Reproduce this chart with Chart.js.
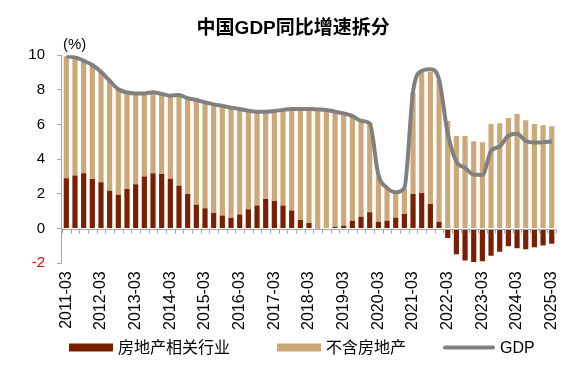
<!DOCTYPE html>
<html>
<head>
<meta charset="utf-8">
<script src="https://cdn.jsdelivr.net/npm/chart.js@4"></script>
<style>
html,body{margin:0;padding:0;background:#fff;}
#wrap{width:579px;height:369px;position:relative;}
</style>
</head>
<body>
<div id="wrap"><canvas id="c" width="579" height="369"></canvas></div>
<script>
const quarters = [
 "2011-03","2011-06","2011-09","2011-12",
 "2012-03","2012-06","2012-09","2012-12",
 "2013-03","2013-06","2013-09","2013-12",
 "2014-03","2014-06","2014-09","2014-12",
 "2015-03","2015-06","2015-09","2015-12",
 "2016-03","2016-06","2016-09","2016-12",
 "2017-03","2017-06","2017-09","2017-12",
 "2018-03","2018-06","2018-09","2018-12",
 "2019-03","2019-06","2019-09","2019-12",
 "2020-03","2020-06","2020-09","2020-12",
 "2021-03","2021-06","2021-09","2021-12",
 "2022-03","2022-06","2022-09","2022-12",
 "2023-03","2023-06","2023-09","2023-12",
 "2024-03","2024-06","2024-09","2024-12",
 "2025-03"
];
const realEstate = [
 2.91,3.06,3.19,2.87, 2.68,2.19,1.96,2.29, 2.56,3.00,3.20,3.15, 2.88,2.48,2.00,1.38,
 1.17,0.90,0.75,0.62, 0.81,1.12,1.34,1.71, 1.60,1.33,1.04,0.50, 0.33,0.02,0.00,0.10,
 0.17,0.46,0.69,0.94, 0.40,0.46,0.62,0.85, 2.00,2.06,1.42,0.39, -0.54,-1.48,-1.84,-1.92,
 -1.88,-1.56,-1.33,-1.02, -1.13,-1.19,-1.07,-0.98, -0.87
];
const nonRealEstate = [
 7.04,6.82,6.50,6.57, 6.37,6.34,6.08,5.56, 5.24,4.80,4.67,4.62, 4.79,5.23,5.52,6.04,
 6.12,6.27,6.33,6.36, 6.09,5.68,5.41,5.04, 5.19,5.52,5.86,6.40, 6.57,6.86,6.85,6.65,
 6.48,6.04,5.53,5.14, 2.60,1.87,1.42,1.45, 5.85,6.96,7.61,8.15, 6.21,5.35,5.35,5.04,
 4.98,6.04,6.08,6.38, 6.61,6.25,6.04,5.96, 5.90
];
const gdp = [
 9.95,9.88,9.69,9.44, 9.05,8.53,8.04,7.85, 7.80,7.80,7.87,7.77, 7.67,7.71,7.52,7.42,
 7.29,7.17,7.08,6.98, 6.90,6.80,6.75,6.75, 6.79,6.85,6.90,6.90, 6.90,6.88,6.85,6.75,
 6.65,6.50,6.22,6.08, 3.10,2.35,2.10,2.35, 7.90,9.10,9.20,8.60, 5.50,3.87,3.51,3.12,
 3.10,4.48,4.75,5.36, 5.48,5.06,4.97,4.98, 5.03
];
const yTicks = [-2,0,2,4,6,8,10];
const seriesNames = ["房地产相关行业","不含房地产","GDP"];
const titleText = "中国GDP同比增速拆分";
const unitText = "(%)";

const FONT = '"Liberation Sans", Arial, "Noto Sans CJK SC", sans-serif';
const AXIS = '#A6A6A6';

const zeroLine = {
  id: 'zeroLine',
  afterDatasetsDraw(chart) {
    const {ctx, chartArea, scales:{x, y}} = chart;
    const y0 = Math.round(y.getPixelForValue(0)) + 0.5;
    ctx.save();
    ctx.strokeStyle = AXIS;
    ctx.lineWidth = 1;
    ctx.beginPath();
    ctx.moveTo(chartArea.left, y0);
    ctx.lineTo(chartArea.right, y0);
    for (let i = 0; i <= quarters.length; i++) {
      const px = Math.round(x.getPixelForValue(i - 0.5)) + 0.5;
      ctx.moveTo(px, y0);
      ctx.lineTo(px, y0 + 4);
    }
    ctx.stroke();
    ctx.fillStyle = '#000';
    ctx.font = '15px ' + FONT;
    ctx.textAlign = 'left';
    ctx.textBaseline = 'alphabetic';
    ctx.fillText(unitText, chartArea.left + 1, chartArea.top - 6);
    ctx.restore();
  }
};

const bottomLegend = {
  id: 'bottomLegend',
  afterDraw(chart) {
    const {ctx, chartArea} = chart;
    const cy = chart.height - 21.5;
    const gaps = [47, 37];
    let xPos = chartArea.left + 7;
    ctx.save();
    ctx.font = '16px ' + FONT;
    ctx.textBaseline = 'middle';
    ctx.textAlign = 'left';
    chart.data.datasets.forEach((ds, i) => {
      let w;
      if (ds.type === 'line') {
        w = 52;
        ctx.strokeStyle = ds.borderColor;
        ctx.lineWidth = ds.borderWidth;
        ctx.lineCap = 'round';
        ctx.beginPath();
        ctx.moveTo(xPos + 2, cy);
        ctx.lineTo(xPos + w - 2, cy);
        ctx.stroke();
      } else {
        w = 44;
        ctx.fillStyle = ds.backgroundColor;
        ctx.fillRect(xPos, cy - 4, w, 8);
      }
      ctx.fillStyle = '#000';
      ctx.fillText(ds.label, xPos + w + 5, cy + 1);
      const tw = ctx.measureText(ds.label).width;
      xPos += w + 5 + tw + (gaps[i] || 0);
    });
    ctx.restore();
  }
};

new Chart(document.getElementById('c'), {
  type: 'bar',
  data: {
    labels: quarters,
    datasets: [
      { label: seriesNames[0], data: realEstate, backgroundColor: '#7A1F00', borderWidth: 0,
        barPercentage: 0.6, categoryPercentage: 1.0, order: 0 },
      { label: seriesNames[1], data: nonRealEstate, backgroundColor: '#CDA97A', borderWidth: 0,
        barPercentage: 0.6, categoryPercentage: 1.0, order: 0 },
      { type: 'line', label: seriesNames[2], data: gdp, borderColor: '#808080', backgroundColor: '#808080',
        borderWidth: 4, pointRadius: 0, cubicInterpolationMode: 'monotone', stack: 'gdp', order: -1 }
    ]
  },
  options: {
    responsive: false,
    animation: false,
    devicePixelRatio: 1,
    layout: { padding: { left: 16.3, right: 8.9, top: 0, bottom: 31 } },
    plugins: {
      tooltip: { enabled: false },
      legend: { display: false },
      title: {
        display: true, text: titleText, color: '#000',
        font: { family: FONT, size: 19, weight: 'bold' },
        padding: { top: 17, bottom: 15.5 }
      }
    },
    scales: {
      x: {
        stacked: true,
        grid: { display: false, drawTicks: false },
        border: { display: false },
        ticks: {
          autoSkip: false, maxRotation: 90, minRotation: 90, padding: 8,
          color: '#000', font: { family: FONT, size: 16 },
          callback: function(v, i) { return i % 4 === 0 ? quarters[i] : ''; }
        }
      },
      y: {
        stacked: true,
        min: yTicks[0], max: yTicks[yTicks.length - 1],
        afterBuildTicks: (s) => { s.ticks = yTicks.map(v => ({ value: v })); },
        grid: { drawOnChartArea: false, drawTicks: true, tickLength: 5, color: AXIS },
        border: { display: true, color: AXIS },
        ticks: {
          autoSkip: false,
          padding: 12,
          font: { family: FONT, size: 15 },
          color: (c) => (c.tick && c.tick.value < 0) ? '#FF0000' : '#000'
        }
      }
    }
  },
  plugins: [zeroLine, bottomLegend]
});
</script>
</body>
</html>
